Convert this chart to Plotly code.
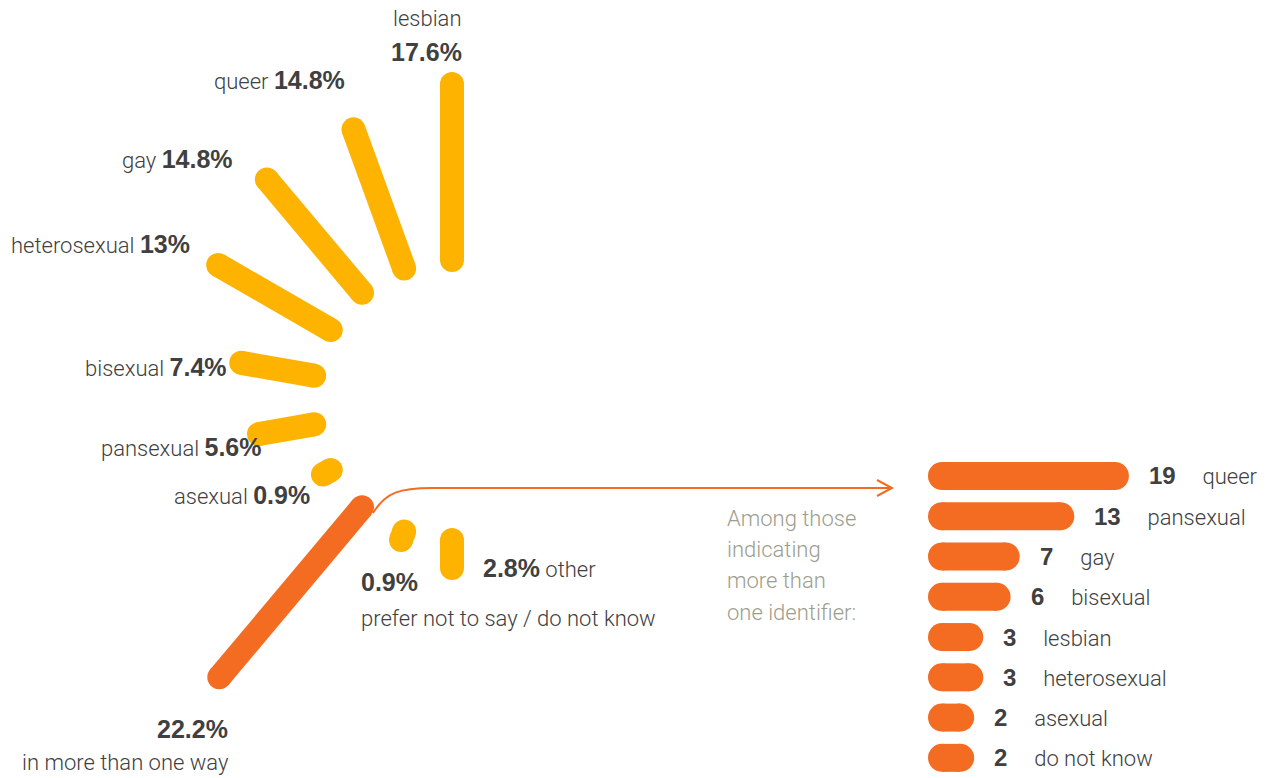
import plotly.graph_objects as go

# ---------------- data ----------------
radial_labels = ["lesbian", "queer", "gay", "heterosexual", "bisexual", "pansexual",
                 "asexual", "in more than one way", "prefer not to say / do not know", "other"]
radial_values = [17.6, 14.8, 14.8, 13, 7.4, 5.6, 0.9, 22.2, 0.9, 2.8]

multi_labels = ["queer", "pansexual", "gay", "bisexual", "lesbian", "heterosexual", "asexual", "do not know"]
multi_values = [19, 13, 7, 6, 3, 3, 2, 2]

note_lines = ["Among those", "indicating", "more than", "one identifier:"]

# ---------------- style ----------------
W, H = 1266, 778
YELLOW = "#FDB300"
ORANGE = "#F36C21"
TEXT = "#404040"
NOTE = "#9d9d8d"
LABEL_FAMILY = "Roboto, sans-serif"
NUM_FAMILY = "Liberation Sans, Arial, sans-serif"
LABEL_SIZE = 22
START_ANGLE, STEP = 90, 20
RBAR_W = 24
HBAR_W = 28


def px(x, y):
    return x / W, 1 - y / H


def num(t, size=25):
    return (f'<span style="font-family:{NUM_FAMILY};font-weight:bold;font-size:{size}px">'
            f'{t}</span>')


fig = go.Figure()

# radial bars
for i, (lab, v) in enumerate(zip(radial_labels, radial_values)):
    th = START_ANGLE + STEP * i
    col = ORANGE if lab == "in more than one way" else YELLOW
    fig.add_trace(go.Scatterpolar(
        r=[0, v], theta=[th, th], mode="lines+markers",
        line=dict(color=col, width=RBAR_W),
        marker=dict(color=col, size=RBAR_W),
        cliponaxis=False, hoverinfo="skip", showlegend=False))

# horizontal bars
for lab, v in zip(multi_labels, multi_values):
    fig.add_trace(go.Scatter(
        x=[0, v], y=[lab, lab], mode="lines+markers",
        line=dict(color=ORANGE, width=HBAR_W),
        marker=dict(color=ORANGE, size=HBAR_W),
        cliponaxis=False, hoverinfo="skip", showlegend=False,
        xaxis="x", yaxis="y"))

annotations = []


def ann(text, x, y, xanchor, color=TEXT, size=LABEL_SIZE, yanchor="middle"):
    ax, ay = px(x, y)
    annotations.append(dict(text=text, x=ax, y=ay, xref="paper", yref="paper",
                            xanchor=xanchor, yanchor=yanchor, showarrow=False,
                            align="left" if xanchor == "left" else "right",
                            font=dict(family=LABEL_FAMILY, size=size, color=color,
                                      weight=300)))


r = dict(zip(radial_labels, radial_values))
fmt = lambda v: f"{v:g}%"
ann(radial_labels[0], 464, 19, "right")
ann(num(fmt(r["lesbian"])), 464, 52, "right")
ann(f'queer {num(fmt(r["queer"]))}', 347, 80, "right")
ann(f'gay {num(fmt(r["gay"]))}', 235, 159, "right")
ann(f'heterosexual {num(fmt(r["heterosexual"]))}', 192, 244, "right")
ann(f'bisexual {num(fmt(r["bisexual"]))}', 229, 367, "right")
ann(f'pansexual {num(fmt(r["pansexual"]))}', 264, 447, "right")
ann(f'asexual {num(fmt(r["asexual"]))}', 312, 495, "right")
ann(num(fmt(r["prefer not to say / do not know"])), 359, 582, "left")
ann("prefer not to say / do not know", 359, 618, "left")
ann(f'{num(fmt(r["other"]))} other', 481, 568, "left")
ann(num(fmt(r["in more than one way"])), 230, 729, "right")
ann("in more than one way", 231, 762, "right")
for k, line in enumerate(note_lines):
    ann(line, 725, 518 + 31.4 * k, "left", color=NOTE)

# value + label next to horizontal bars
for lab, v in zip(multi_labels, multi_values):
    annotations.append(dict(
        text=f'{num(v, 24)}&nbsp;&nbsp;&nbsp;&nbsp;&nbsp;{lab}',
        x=v, y=lab, xref="x", yref="y", xanchor="left", yanchor="middle",
        xshift=32, showarrow=False,
        font=dict(family=LABEL_FAMILY, size=LABEL_SIZE, color=TEXT, weight=300)))


def path_pts(cmds):
    out = []
    for c, pts in cmds:
        coords = " ".join(f"{px(x, y)[0]:.5f},{px(x, y)[1]:.5f}" for x, y in pts)
        out.append(f"{c} {coords}")
    return " ".join(out)


shapes = [
    dict(type="path", xref="paper", yref="paper",
         path=path_pts([("M", [(373, 513)]), ("C", [(386, 492), (400, 488), (432, 488)]),
                        ("L", [(890, 488)])]),
         line=dict(color=ORANGE, width=2)),
    dict(type="path", xref="paper", yref="paper",
         path=path_pts([("M", [(877, 480)]), ("L", [(892, 488)]), ("L", [(877, 496)])]),
         line=dict(color=ORANGE, width=2)),
]

fig.update_layout(
    width=W, height=H,
    margin=dict(l=0, r=0, t=0, b=0),
    paper_bgcolor="white", plot_bgcolor="white",
    showlegend=False,
    polar=dict(
        domain=dict(x=[77 / W, 827 / W], y=[3 / H, 753 / H]),
        bgcolor="rgba(0,0,0,0)",
        radialaxis=dict(visible=False, range=[-14, 23.5]),
        angularaxis=dict(visible=False),
    ),
    xaxis=dict(domain=[942 / W, 1], range=[0, (W - 942) / 9.1], visible=False, fixedrange=True),
    yaxis=dict(domain=[0, (H - 455.85) / H], type="category",
               categoryorder="array", categoryarray=multi_labels,
               range=[7.5, -0.5], visible=False, fixedrange=True),
    annotations=annotations,
    shapes=shapes,
)

fig.write_html("out.html",
               config={"displayModeBar": False},
               post_script="document.body.style.margin='0px';document.body.style.overflow='hidden';")
